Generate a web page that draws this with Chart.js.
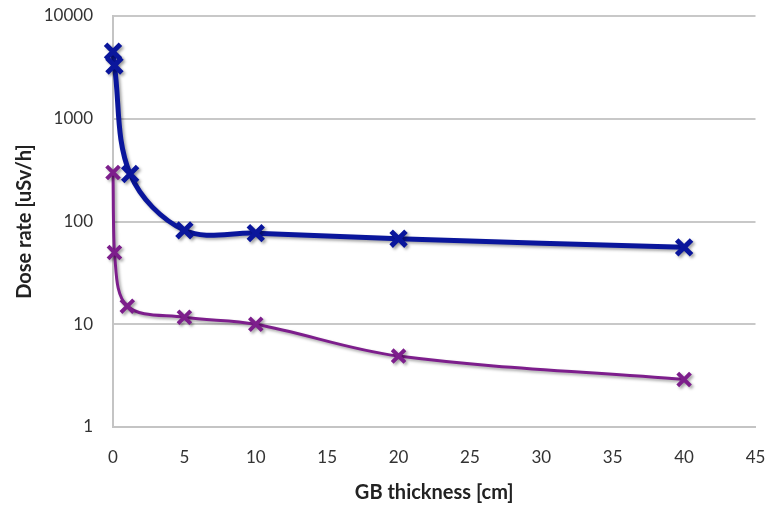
<!DOCTYPE html>
<html>
<head>
<meta charset="utf-8">
<script src="https://cdn.jsdelivr.net/npm/chart.js@4/dist/chart.umd.min.js"></script>
<style>
html,body{margin:0;padding:0;background:#fff;}
#wrap{width:771px;height:505px;position:relative;}
</style>
</head>
<body>
<div id="wrap"><canvas id="c" width="771" height="505"></canvas></div>
<script>
const thicknessBlue = [0, 0.1, 1.2, 5, 10, 20, 40];
const doseBlue = [4500, 3300, 290, 82, 77, 68, 56];
const thicknessPurple = [0, 0.1, 1, 5, 10, 20, 40];
const dosePurple = [300, 50, 15, 11.7, 10, 4.9, 2.9];
const yTicks = [1, 10, 100, 1000, 10000];
const xTitle = 'GB thickness [cm]';
const yTitle = 'Dose rate [uSv/h]';

const toPts = (xs, ys) => xs.map((x, i) => ({x: x, y: ys[i]}));

const shadowPlugin = {
  id: 'shadow',
  beforeDatasetDraw(chart) {
    const ctx = chart.ctx;
    ctx.save();
    ctx.shadowColor = 'rgba(0,0,0,0.35)';
    ctx.shadowBlur = 3;
    ctx.shadowOffsetX = 2;
    ctx.shadowOffsetY = 2;
  },
  afterDatasetDraw(chart) {
    chart.ctx.restore();
  }
};

const fam = "Lato, 'Open Sans', sans-serif";
const tickFont = {family: fam, size: 17};
const titleFont = {family: fam, size: 20, weight: 'bold'};

new Chart(document.getElementById('c'), {
  type: 'line',
  data: {
    datasets: [
      {
        data: toPts(thicknessBlue, doseBlue),
        borderColor: '#0a169c',
        backgroundColor: '#0a169c',
        borderWidth: 5,
        tension: 0.35,
        clip: false,
        pointStyle: 'crossRot',
        pointRadius: 10.5,
        pointBorderWidth: 5,
        pointBorderColor: '#0a169c'
      },
      {
        data: toPts(thicknessPurple, dosePurple),
        borderColor: '#7d1e8c',
        backgroundColor: '#7d1e8c',
        borderWidth: 3,
        tension: 0.35,
        clip: false,
        pointStyle: 'crossRot',
        pointRadius: 9,
        pointBorderWidth: 4,
        pointBorderColor: '#7d1e8c'
      }
    ]
  },
  options: {
    responsive: false,
    animation: false,
    layout: {padding: {top: 16, right: 13, left: 0, bottom: 0}},
    plugins: {legend: {display: false}, tooltip: {enabled: false}},
    scales: {
      x: {
        type: 'linear',
        min: 0,
        max: 45,
        ticks: {stepSize: 5, color: '#333', font: tickFont, padding: 20},
        grid: {display: false, drawTicks: false},
        border: {display: true, color: '#c4c4c4', width: 2},
        title: {display: true, text: xTitle, color: '#222', font: titleFont, padding: {top: 6, bottom: 0}},
        afterFit(s) { s.height = 78; s.paddingLeft = 0; s.paddingRight = 0; }
      },
      y: {
        type: 'logarithmic',
        min: 1,
        max: 10000,
        afterBuildTicks(s) { s.ticks = yTicks.map(v => ({value: v})); },
        ticks: {color: '#333', font: tickFont, padding: 20, callback: v => String(v)},
        grid: {color: '#c8c8c8', lineWidth: 2, drawTicks: false},
        border: {display: true, color: '#c4c4c4', width: 2},
        title: {display: true, text: yTitle, color: '#222', font: titleFont, padding: {top: 13, bottom: 0}},
        afterFit(s) { s.width = 113; s.paddingTop = 0; s.paddingBottom = 0; }
      }
    }
  },
  plugins: [shadowPlugin]
});
</script>
</body>
</html>
